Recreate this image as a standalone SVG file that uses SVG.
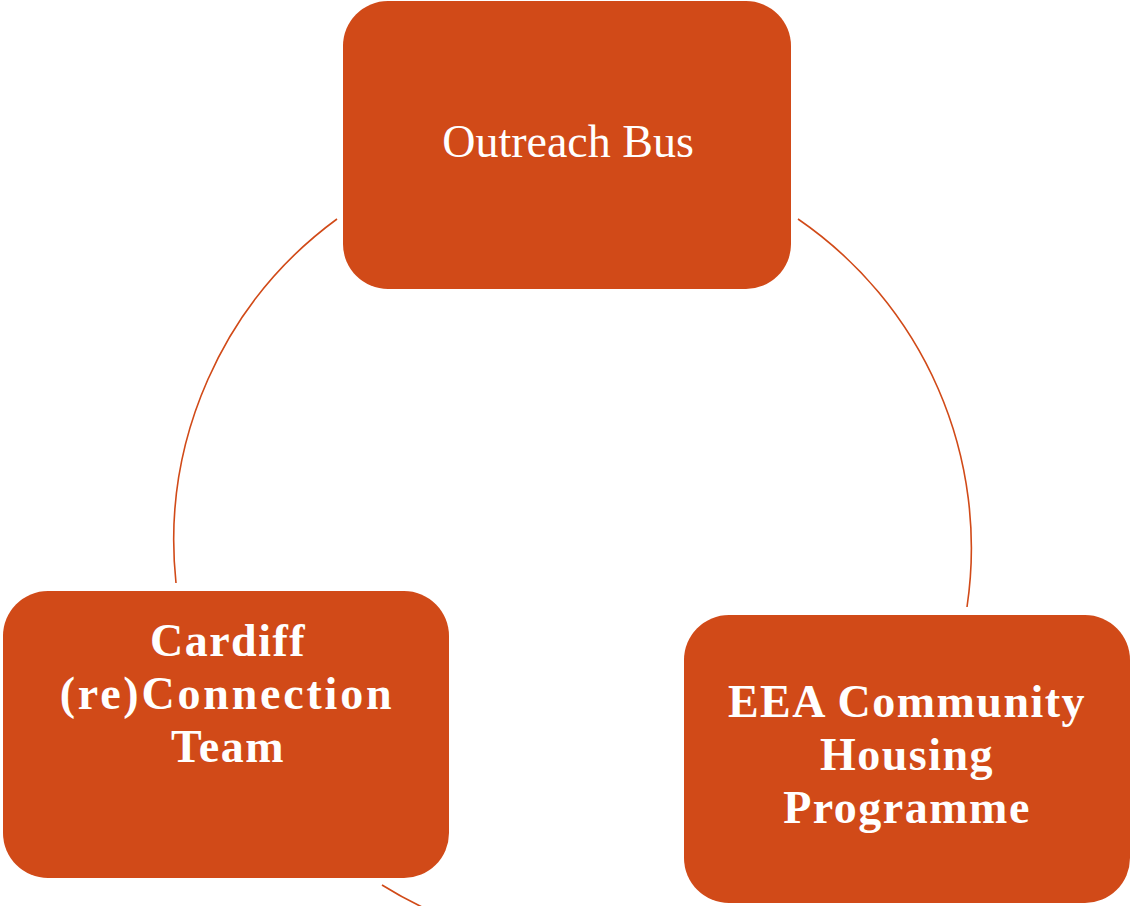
<svg xmlns="http://www.w3.org/2000/svg" width="1131" height="906" viewBox="0 0 1131 906">
<style>
.box{fill:#D14A18;}
.conn{fill:none;stroke:#D14A18;stroke-width:1.6;}
.t{fill:#ffffff;font-family:"Liberation Serif","Times New Roman",serif;font-size:46px;text-anchor:middle;}
.b{font-weight:bold;letter-spacing:1.5px;}
</style>
<rect width="1131" height="906" fill="#ffffff"/>
<g id="connectors">
<path class="conn" d="M337,219 A399,399 0 0 0 176,583"/>
<path class="conn" d="M798,219 A399,399 0 0 1 967,607"/>
<path class="conn" d="M382,885 A399,399 0 0 0 440,915"/>
</g>
<g id="node-outreach">
<rect class="box" x="343" y="1" width="448" height="288" rx="45" ry="45"/>
<text class="t" x="568" y="157">Outreach Bus</text>
</g>
<g id="node-cardiff">
<rect class="box" x="3" y="591" width="446" height="287" rx="45" ry="45"/>
<text class="t b" x="228" y="656">Cardiff</text>
<text class="t b" x="227" y="709" style="letter-spacing:2.8px">(re)Connection</text>
<text class="t b" x="228" y="762">Team</text>
</g>
<g id="node-eea">
<rect class="box" x="684" y="615" width="446" height="288" rx="45" ry="45"/>
<text class="t b" x="907" y="717">EEA Community</text>
<text class="t b" x="907" y="770">Housing</text>
<text class="t b" x="907" y="823">Programme</text>
</g>
</svg>
